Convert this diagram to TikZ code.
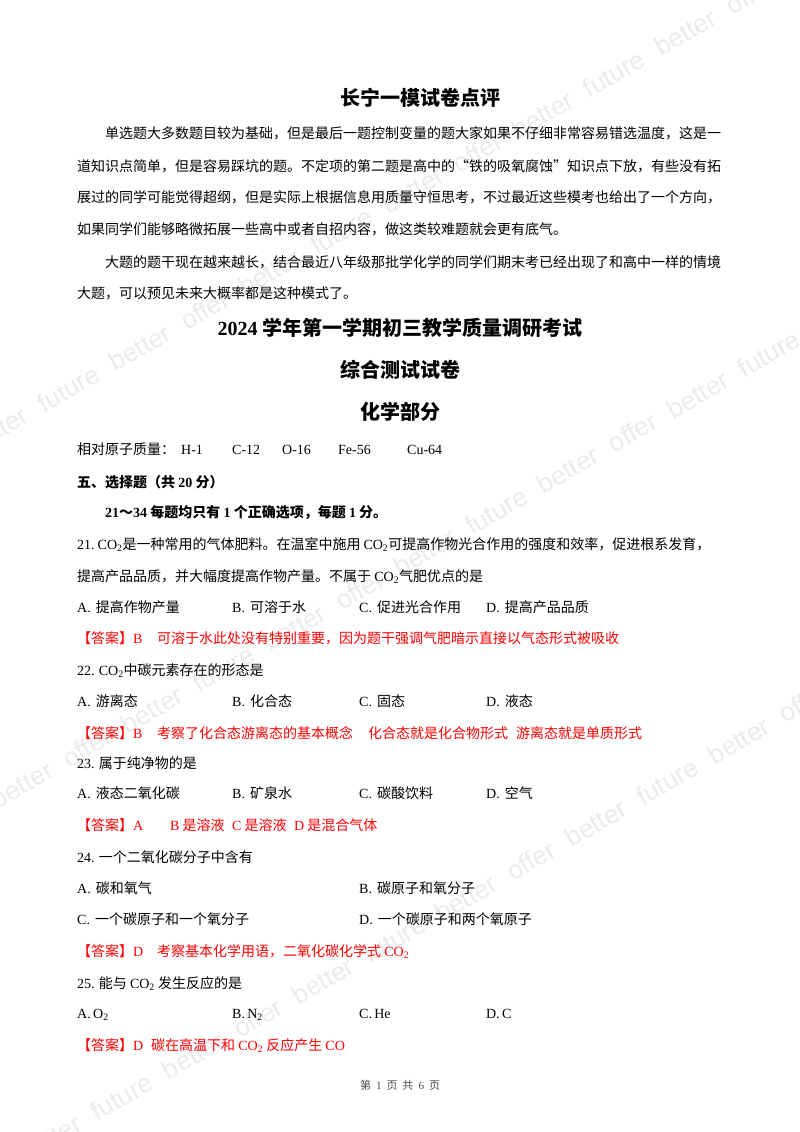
\documentclass[tikz,border=0pt]{standalone}
\usepackage{fontspec}
\setmainfont{Noto Sans CJK SC}
\newfontfamily\latin{Liberation Serif}
\newfontfamily\wmfont{Liberation Sans}
\XeTeXlinebreaklocale "zh"
\XeTeXlinebreakskip=0pt plus 1pt
\newcommand\LT[1]{{\latin #1}}
\newcommand\COt{{\latin CO\textsubscript{2}}}
\newcommand\opt[2]{\LT{#1.}\hspace{5pt}#2}
\newcommand\wmphrase{better\hspace{16pt}offer\hspace{16pt}better\hspace{16pt}future\hspace{16pt}}
\newcommand\wmline{\wmphrase\wmphrase\wmphrase\wmphrase\wmphrase\wmphrase\wmphrase\wmphrase}
\begin{document}
\begin{tikzpicture}[x=1pt,y=-1pt,
  txt/.style={anchor=base west, inner sep=0pt, font=\fontsize{14}{16}\selectfont},
  ans/.style={txt, text=red},
  bld/.style={anchor=base west, inner sep=0pt, font=\fontsize{14}{16}\selectfont\bfseries},
  ttl/.style={anchor=base, inner sep=0pt, font=\fontsize{20}{24}\selectfont\bfseries},
  wm/.style={rotate=30, anchor=base west, inner sep=0pt, text=black!8, font={\wmfont\fontsize{26}{30}\selectfont}},
  foot/.style={anchor=base, inner sep=0pt, text=black!70, font=\fontsize{11}{13}\selectfont}]
\useasboundingbox (0,0) rectangle (800,1132);
\fill[white] (0,0) rectangle (800,1132);
\begin{scope}
\clip (0,0) rectangle (800,1132);
\node[wm] (wmA) at (-430,687) {\wmline};
\node[wm] (wmB) at (-275,967) {\wmline};
\node[wm] (wmC) at (-104,1237.8) {\wmline};
\end{scope}

\node[ttl] (title) at (420,105) {长宁一模试卷点评};
\node[txt] (p1) at (105,138) {\makebox[616pt][s]{单选题大多数题目较为基础，但是最后一题控制变量的题大家如果不仔细非常容易错选温度，这是一}};
\node[txt] (p2) at (77,171) {\makebox[644pt][s]{道知识点简单，但是容易踩坑的题。不定项的第二题是高中的“铁的吸氧腐蚀”知识点下放，有些没有拓}};
\node[txt] (p3) at (77,202) {\makebox[644pt][s]{展过的同学可能觉得超纲，但是实际上根据信息用质量守恒思考，不过最近这些模考也给出了一个方向，}};
\node[txt] (p4) at (77,234) {如果同学们能够略微拓展一些高中或者自招内容，做这类较难题就会更有底气。};
\node[txt] (p5) at (105,267) {\makebox[616pt][s]{大题的题干现在越来越长，结合最近八年级那批学化学的同学们期末考已经出现了和高中一样的情境}};
\node[txt] (p6) at (77,298) {大题，可以预见未来大概率都是这种模式了。};

\node[ttl] (h1) at (400,335) {\LT{2024} 学年第一学期初三教学质量调研考试};
\node[ttl] (h2) at (400,377) {综合测试试卷};
\node[ttl] (h3) at (400,419) {化学部分};

\node[txt] (am) at (77,454) {相对原子质量：};
\node[txt] (amH) at (181,454) {\LT{H-1}};
\node[txt] (amC) at (232,454) {\LT{C-12}};
\node[txt] (amO) at (282,454) {\LT{O-16}};
\node[txt] (amFe) at (338,454) {\LT{Fe-56}};
\node[txt] (amCu) at (407,454) {\LT{Cu-64}};

\node[bld] (sec) at (77,487) {五、选择题（共 \LT{20} 分）};
\node[bld] (rule) at (105,517) {\LT{21}～\LT{34} 每题均只有 \LT{1} 个正确选项，每题 \LT{1} 分。};

% 21
\node[txt] (q21a) at (77,549) {\makebox[640pt][s]{\LT{21.}\hspace{3pt}\COt 是一种常用的气体肥料。在温室中施用\hspace{3pt}\COt 可提高作物光合作用的强度和效率，促进根系发育，}};
\node[txt] (q21b) at (77,581) {提高产品品质，并大幅度提高作物产量。不属于 \COt 气肥优点的是};
\node[txt] (o21a) at (77,612) {\opt{A}{提高作物产量}};
\node[txt] (o21b) at (232,612) {\opt{B}{可溶于水}};
\node[txt] (o21c) at (359,612) {\opt{C}{促进光合作用}};
\node[txt] (o21d) at (486,612) {\opt{D}{提高产品品质}};
\node[ans] (a21) at (77,643) {【答案】\LT{B}};
\node[ans] (a21t) at (157,643) {可溶于水此处没有特别重要，因为题干强调气肥暗示直接以气态形式被吸收};

% 22
\node[txt] (q22) at (77,675) {\LT{22.} \COt 中碳元素存在的形态是};
\node[txt] (o22a) at (77,706) {\opt{A}{游离态}};
\node[txt] (o22b) at (232,706) {\opt{B}{化合态}};
\node[txt] (o22c) at (359,706) {\opt{C}{固态}};
\node[txt] (o22d) at (486,706) {\opt{D}{液态}};
\node[ans] (a22) at (77,738) {【答案】\LT{B}};
\node[ans] (a22t) at (157,738) {考察了化合态游离态的基本概念};
\node[ans] (a22u) at (368,738) {化合态就是化合物形式};
\node[ans] (a22v) at (516,738) {游离态就是单质形式};

% 23
\node[txt] (q23) at (77,768) {\LT{23.} 属于纯净物的是};
\node[txt] (o23a) at (77,798) {\opt{A}{液态二氧化碳}};
\node[txt] (o23b) at (232,798) {\opt{B}{矿泉水}};
\node[txt] (o23c) at (359,798) {\opt{C}{碳酸饮料}};
\node[txt] (o23d) at (486,798) {\opt{D}{空气}};
\node[ans] (a23) at (77,830) {【答案】\LT{A}};
\node[ans] (a23t) at (170,830) {\LT{B} 是溶液};
\node[ans] (a23u) at (232,830) {\LT{C} 是溶液};
\node[ans] (a23v) at (294,830) {\LT{D} 是混合气体};

% 24
\node[txt] (q24) at (77,862) {\LT{24.} 一个二氧化碳分子中含有};
\node[txt] (o24a) at (77,893) {\opt{A}{碳和氧气}};
\node[txt] (o24b) at (359,893) {\opt{B}{碳原子和氧分子}};
\node[txt] (o24c) at (77,924) {\opt{C}{一个碳原子和一个氧分子}};
\node[txt] (o24d) at (359,924) {\opt{D}{一个碳原子和两个氧原子}};
\node[ans] (a24) at (77,956) {【答案】\LT{D}};
\node[ans] (a24t) at (157,956) {考察基本化学用语，二氧化碳化学式 \COt};

% 25
\node[txt] (q25) at (77,988) {\LT{25.} 能与 \COt\ 发生反应的是};
\node[txt] (o25a) at (77,1018) {\LT{A.\,O\textsubscript{2}}};
\node[txt] (o25b) at (232,1018) {\LT{B.\,N\textsubscript{2}}};
\node[txt] (o25c) at (359,1018) {\LT{C.\,He}};
\node[txt] (o25d) at (486,1018) {\LT{D.\,C}};
\node[ans] (a25) at (77,1050) {【答案】\LT{D}};
\node[ans] (a25t) at (151,1050) {碳在高温下和 \COt\ 反应产生 \LT{CO}};

\node[foot] (footer) at (400,1089) {第\hspace{5pt}\LT{1}\hspace{5pt}页\hspace{5pt}共\hspace{5pt}\LT{6}\hspace{5pt}页};
\end{tikzpicture}
\end{document}
